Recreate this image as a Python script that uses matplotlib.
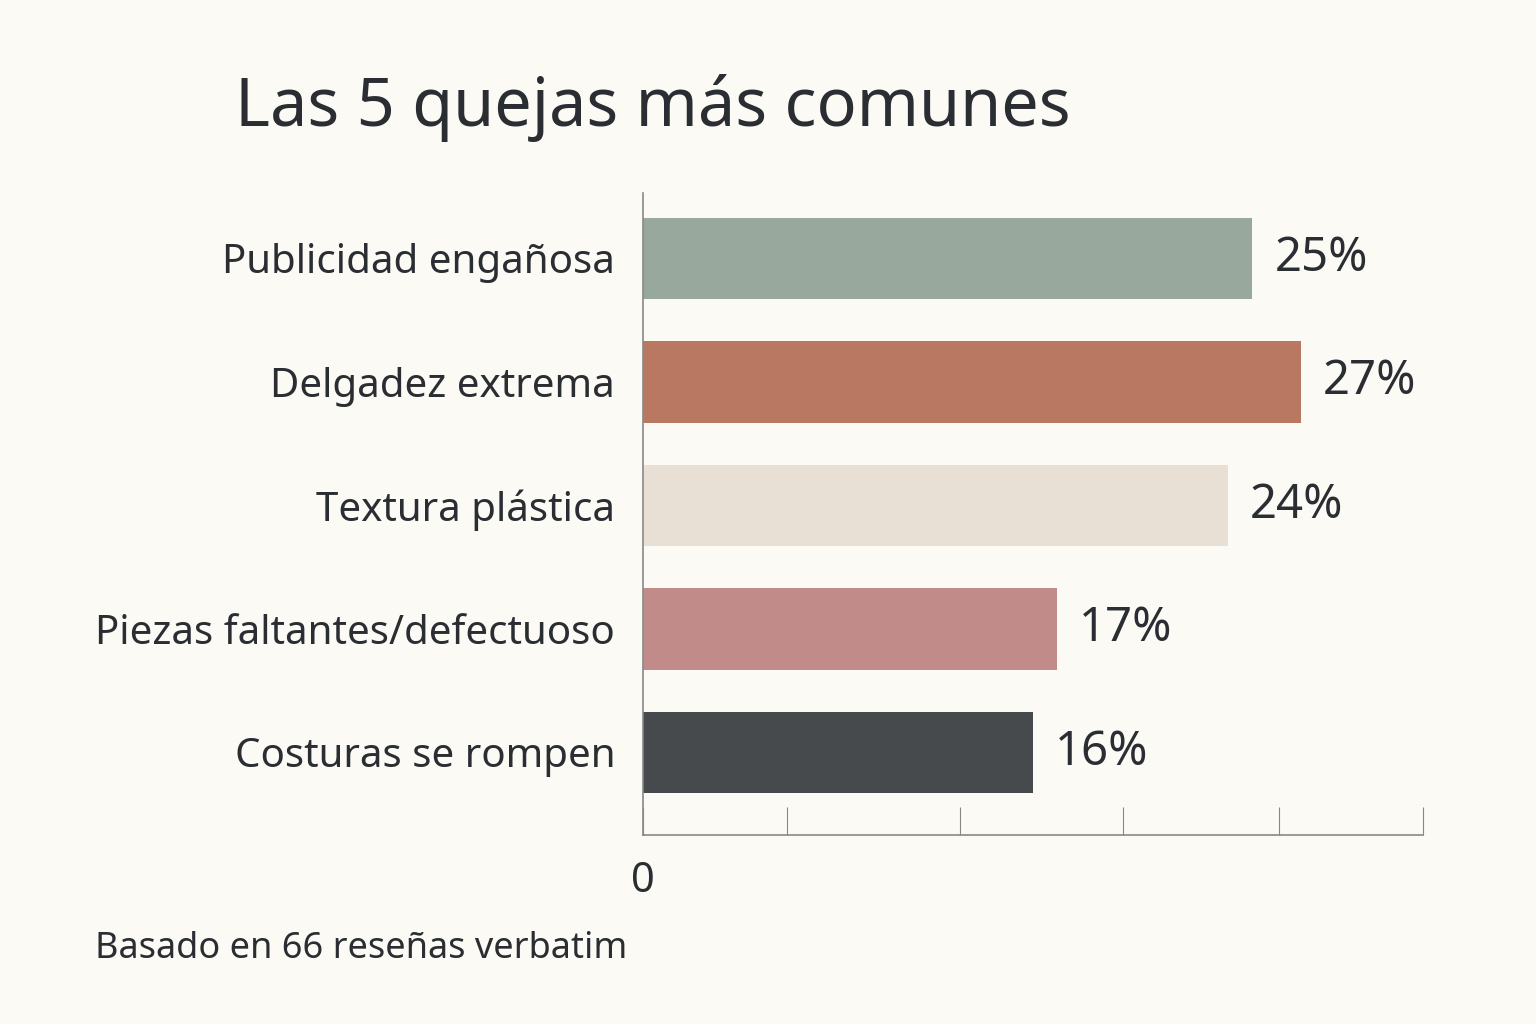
import matplotlib
matplotlib.use("Agg")
import matplotlib.pyplot as plt

categories = ["Publicidad engañosa", "Delgadez extrema", "Textura plástica",
              "Piezas faltantes/defectuoso", "Costuras se rompen"]
values = [25, 27, 24, 17, 16]
labels = ["25%", "27%", "24%", "17%", "16%"]
colors = ["#98a89c", "#b87862", "#e8e0d4", "#c18b89", "#474a4d"]
tick_positions = [0, 5.9, 13.0, 19.7, 26.1, 32]
tick_labels = ["0", "", "", "", "", ""]

bg = "#fbfaf5"
tc = "#2a2e33"
plt.rcParams['font.family'] = ['Noto Sans', 'DejaVu Sans']

fig = plt.figure(figsize=(15.36, 10.24), dpi=100, facecolor=bg)
ax = fig.add_axes([0.4186, 0.1846, 0.9264 - 0.4186, 0.8115 - 0.1846])
ax.set_facecolor(bg)
y = list(range(len(categories)))
ax.barh(y, values, height=0.66, color=colors)
for yi, v, l in zip(y, values, labels):
    ax.text(v + 0.9, yi, l, va="center", ha="left", fontsize=34, color=tc)
ax.set_ylim(4.67, -0.53)
ax.set_xlim(0, 32)
ax.set_yticks(y)
ax.set_yticklabels(categories, fontsize=29, color=tc)
ax.tick_params(axis="y", length=0, pad=20)
ax.set_xticks(tick_positions)
ax.set_xticklabels(tick_labels, fontsize=30, color=tc)
ax.tick_params(axis="x", direction="in", length=20, color="#888888", pad=18)
for s in ["top", "right"]:
    ax.spines[s].set_visible(False)
for s in ["left", "bottom"]:
    ax.spines[s].set_color("#888888")
    ax.spines[s].set_linewidth(1.2)

fig.text(0.153, 0.895, "Las 5 quejas más comunes", fontsize=48, fontweight="bold", color=tc, va="center")
fig.text(0.062, 0.073, "Basado en 66 reseñas verbatim", fontsize=26, color=tc, va="center")
fig.savefig("out.png", dpi=100, facecolor=bg)
